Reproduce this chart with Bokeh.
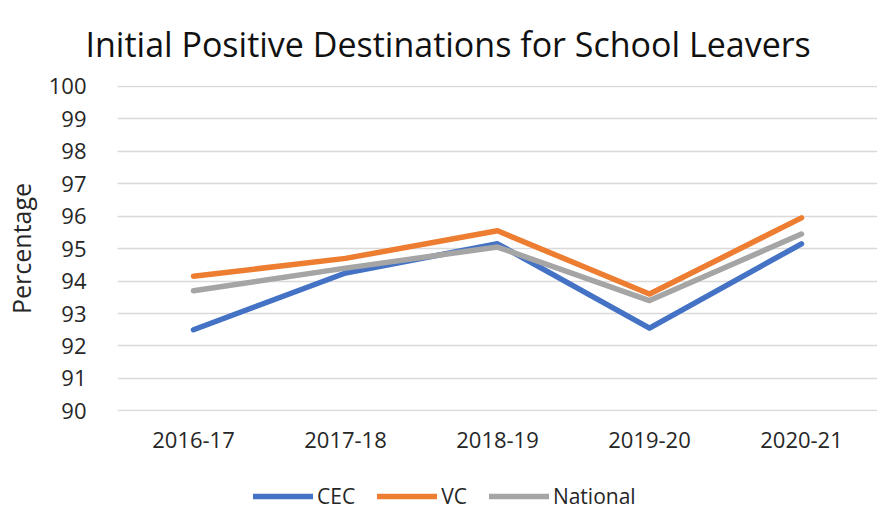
from bokeh.plotting import figure
from bokeh.models import Legend, LegendItem, Range1d, FixedTicker, Title
from bokeh.layouts import column
from bokeh.embed import file_html
from bokeh.resources import INLINE

years = ["2016-17", "2017-18", "2018-19", "2019-20", "2020-21"]
cec = [92.5, 94.25, 95.15, 92.55, 95.15]
vc = [94.15, 94.7, 95.55, 93.6, 95.95]
national = [93.7, 94.4, 95.05, 93.4, 95.45]
y_ticks = list(range(90, 101))
series_names = ["CEC", "VC", "National"]
series_colors = ["#4472C4", "#ED7D31", "#A5A5A5"]

FONT = "Open Sans"
TXT = "#262626"
LW = 5.5

p = figure(x_range=years, y_range=Range1d(89.98, 100.03), width=877, height=462,
           output_backend="svg", toolbar_location=None,
           min_border_left=97, min_border_right=0, min_border_top=83, min_border_bottom=51)
p.title = Title(text="Initial Positive Destinations for School Leavers", align="left",
                offset=-32, text_font=FONT, text_font_size="34px", text_font_style="normal",
                text_color="#111111", standoff=37, text_line_height=0.85)
p.outline_line_color = None
p.background_fill_color = "white"
p.border_fill_color = "white"

for vals, col in zip([cec, vc, national], series_colors):
    p.line(years, vals, line_color=col, line_width=LW, line_cap="round", line_join="round")

p.xgrid.grid_line_color = None
p.ygrid.grid_line_color = "#D9D9D9"
p.ygrid.grid_line_width = 1.5
p.yaxis.ticker = FixedTicker(ticks=y_ticks)

for ax in (p.xaxis[0], p.yaxis[0]):
    ax.axis_line_color = None
    ax.major_tick_line_color = None
    ax.minor_tick_line_color = None
    ax.major_label_text_font = FONT
    ax.major_label_text_font_size = "22px"
    ax.major_label_text_color = TXT

p.xaxis.major_label_standoff = 14
p.yaxis.major_label_standoff = 25
p.yaxis.axis_label = "Percentage"
p.yaxis.axis_label_text_font = FONT
p.yaxis.axis_label_text_font_size = "25px"
p.yaxis.axis_label_text_font_style = "normal"
p.yaxis.axis_label_text_color = TXT
p.yaxis.axis_label_standoff = 8

# legend strip below the chart (placeholder renderers hold no visible data)
nan = float("nan")
lg = figure(width=877, height=48, x_range=Range1d(0, 1), y_range=Range1d(0, 1),
            output_backend="svg", toolbar_location=None,
            x_axis_location=None, y_axis_location=None,
            min_border_left=0, min_border_right=0, min_border_top=0, min_border_bottom=0)
lg.outline_line_color = None
lg.xgrid.grid_line_color = None
lg.ygrid.grid_line_color = None
items = []
for name, col in zip(series_names, series_colors):
    r = lg.line([nan, nan], [nan, nan], line_color=col, line_width=LW, line_cap="round")
    items.append(LegendItem(label=name, renderers=[r]))
legend = Legend(items=items, orientation="horizontal", location=(136, 0),
                label_text_font=FONT, label_text_font_size="21px", label_text_color=TXT,
                glyph_width=60, glyph_height=22, spacing=22, label_standoff=4,
                padding=0, margin=0, border_line_color=None, background_fill_alpha=0)
lg.add_layout(legend, "center")

layout = column(p, lg, spacing=0)
open("out.html", "w").write(file_html(layout, INLINE))
